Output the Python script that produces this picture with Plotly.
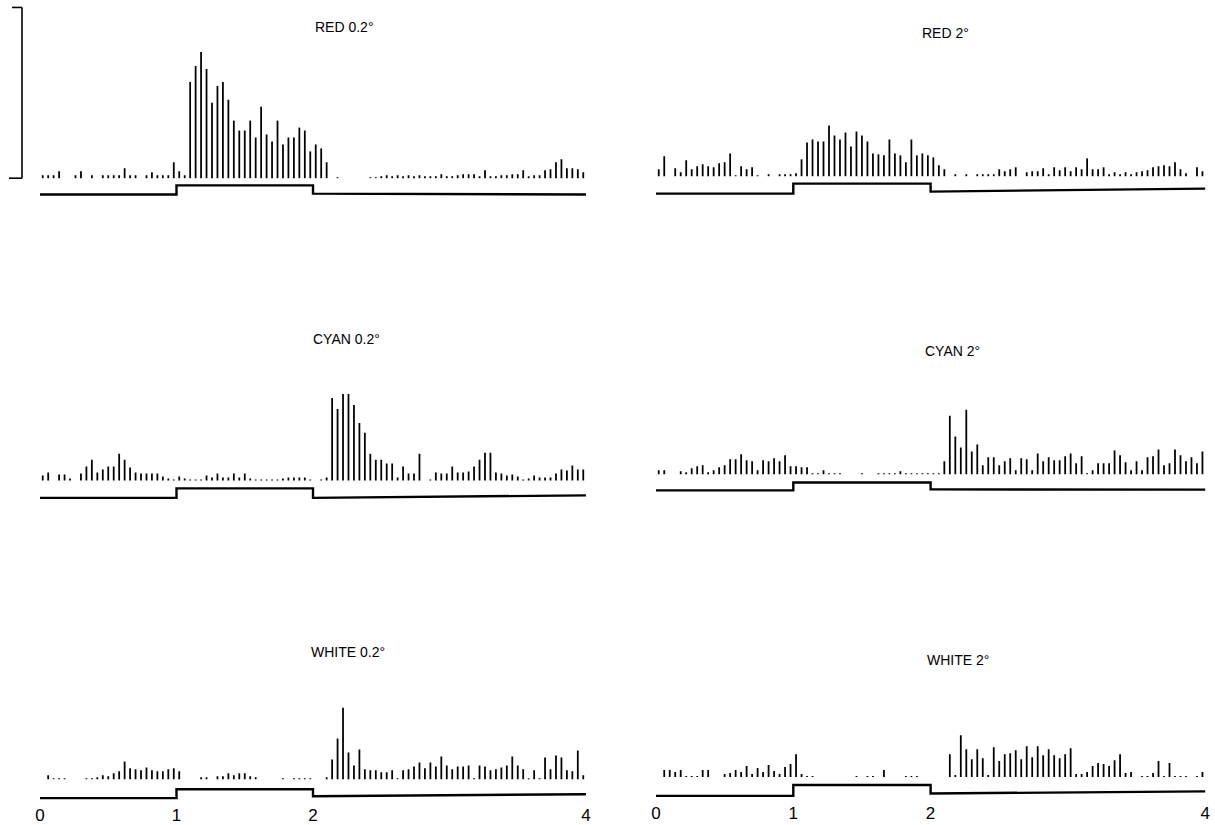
import plotly.graph_objects as go

# ---------------- data ----------------
BIN_WIDTH = 0.04          # seconds per bin
N_BINS = 100              # 4 s record
bin_centers = [BIN_WIDTH * (i + 0.5) for i in range(N_BINS)]

# spike-rate histograms (arbitrary units, same scale for all panels)
red_02 = [3, 3, 3, 7, 0, 0, 3, 7, 0, 3, 0, 3, 3, 3, 3, 10, 3, 3, 0, 3,
          6, 3, 3, 3, 16, 7, 3, 97, 113, 127, 110, 76, 93, 97, 79, 58, 48, 48, 58, 41,
          72, 44, 37, 58, 34, 41, 41, 51, 48, 27, 34, 30, 16, 0, 1, 0, 0, 0, 0, 0,
          1, 1, 2, 3, 2, 3, 2, 3, 2, 3, 2, 2, 2, 4, 2, 2, 3, 4, 4, 4,
          2, 8, 2, 2, 3, 3, 4, 4, 8, 2, 3, 3, 8, 9, 16, 19, 10, 10, 9, 6]
red_2 = [7, 20, 0, 8, 4, 16, 7, 10, 12, 10, 9, 13, 14, 23, 1, 10, 7, 9, 1, 0,
         2, 0, 2, 2, 2, 3, 17, 34, 37, 35, 35, 51, 41, 37, 44, 30, 45, 41, 35, 23,
         22, 21, 37, 23, 21, 14, 37, 21, 23, 21, 19, 11, 7, 0, 2, 0, 2, 0, 2, 2,
         2, 2, 7, 5, 7, 9, 0, 4, 5, 5, 8, 2, 9, 6, 9, 5, 9, 7, 18, 7,
         7, 9, 2, 4, 2, 4, 2, 4, 5, 6, 9, 10, 11, 10, 14, 7, 3, 0, 9, 5]
cyan_02 = [5, 8, 0, 6, 6, 2, 0, 7, 14, 21, 8, 11, 14, 14, 27, 21, 13, 8, 7, 7,
           7, 7, 4, 2, 1, 4, 2, 1, 1, 1, 5, 3, 7, 3, 3, 7, 3, 7, 2, 1,
           1, 1, 1, 1, 2, 3, 3, 3, 3, 1, 0, 1, 3, 83, 72, 87, 87, 76, 58, 48,
           27, 21, 21, 17, 17, 3, 14, 7, 7, 27, 0, 1, 8, 7, 7, 14, 8, 8, 9, 14,
           21, 28, 28, 8, 7, 5, 6, 4, 1, 2, 5, 3, 3, 3, 7, 11, 10, 15, 11, 11]
cyan_2 = [4, 4, 0, 0, 3, 2, 6, 8, 9, 2, 4, 7, 9, 15, 15, 20, 14, 13, 4, 14,
          13, 16, 13, 19, 8, 8, 7, 7, 1, 1, 4, 1, 1, 1, 0, 0, 0, 1, 0, 0,
          1, 1, 1, 1, 3, 1, 1, 1, 1, 1, 1, 1, 13, 59, 38, 27, 65, 23, 30, 9,
          17, 17, 9, 13, 16, 4, 16, 15, 4, 21, 13, 17, 14, 14, 18, 21, 11, 18, 1, 4,
          11, 11, 11, 24, 19, 12, 4, 13, 4, 17, 18, 25, 9, 11, 25, 19, 13, 17, 11, 23]
white_02 = [0, 4, 1, 1, 1, 0, 0, 0, 1, 1, 2, 4, 3, 6, 8, 18, 11, 10, 9, 12,
            9, 8, 8, 10, 11, 8, 0, 0, 0, 2, 2, 0, 3, 3, 6, 4, 6, 6, 3, 2,
            0, 0, 0, 0, 1, 0, 1, 1, 1, 1, 0, 0, 2, 20, 41, 72, 27, 14, 30, 10,
            9, 9, 7, 7, 9, 1, 9, 10, 13, 17, 11, 17, 13, 23, 14, 10, 13, 13, 14, 1,
            14, 13, 9, 10, 12, 14, 23, 14, 10, 1, 9, 1, 22, 10, 24, 22, 9, 8, 29, 4]
white_2 = [0, 7, 7, 5, 7, 1, 1, 1, 7, 7, 0, 0, 3, 4, 7, 5, 11, 3, 9, 5,
           12, 6, 3, 10, 13, 23, 3, 1, 1, 0, 0, 0, 0, 0, 0, 0, 1, 0, 1, 1,
           0, 7, 0, 0, 0, 1, 1, 1, 0, 0, 0, 0, 0, 23, 2, 42, 28, 18, 28, 19,
           2, 30, 16, 23, 24, 27, 18, 31, 20, 31, 22, 28, 22, 19, 23, 29, 3, 3, 5, 11,
           14, 13, 11, 17, 23, 4, 5, 0, 1, 1, 4, 16, 1, 14, 1, 1, 1, 0, 1, 5]

# stimulus timing (light on between 1 s and 2 s)
STIM_T = [0, 1, 1, 2, 2, 4]
STIM_ON = [0, 0, 1, 1, 0, 0]

TICK_VALS = [0, 1, 2, 4]
TICK_TEXT = ["0", "1", "2", "4"]
SCALE_BAR = 172

TITLES = ["RED 0.2°", "RED 2°", "CYAN 0.2°", "CYAN 2°", "WHITE 0.2°", "WHITE 2°"]
SERIES = [red_02, red_2, cyan_02, cyan_2, white_02, white_2]

# ---------------- layout / style ----------------
W, H = 1215, 825
COLS = [dict(dom=(0.0, 0.5), px0=40.0, pps=136.5),
        dict(dom=(0.5, 1.0), px0=656.0, pps=137.3)]
# per panel: column, baseline px, top px, bottom pad, stim levels (left low, high, right start, right end), title pos
PANELS = [
    dict(col=0, base=179.5, top=0, pad=24, stim=(-16.5, -7.2, -15.5, -16.5), tpos=(344, 27)),
    dict(col=1, base=177.5, top=0, pad=24, stim=(-17.5, -7.5, -15.5, -12.5), tpos=(945, 33)),
    dict(col=0, base=484.0, top=290, pad=24, stim=(-17.5, -8.0, -17.5, -15.0), tpos=(346, 341)),
    dict(col=1, base=477.7, top=290, pad=24, stim=(-16.3, -8.3, -15.3, -15.5), tpos=(952, 354)),
    dict(col=0, base=785.0, top=590, pad=22, stim=(-19.0, -10.0, -17.0, -15.0), tpos=(348, 657)),
    dict(col=1, base=782.7, top=590, pad=22, stim=(-19.0, -8.0, -16.6, -14.5), tpos=(958, 665)),
]

fig = go.Figure()
layout = dict(width=W, height=H, margin=dict(l=0, r=0, t=0, b=0),
              paper_bgcolor="white", plot_bgcolor="rgba(0,0,0,0)",
              showlegend=False, annotations=[], shapes=[])

for k, (p, vals, title) in enumerate(zip(PANELS, SERIES, TITLES)):
    n = "" if k == 0 else str(k + 1)
    xa, ya = "x" + n, "y" + n
    c = COLS[p["col"]]
    fig.add_trace(go.Bar(x=bin_centers, y=vals, width=0.013,
                         marker=dict(color="black", line=dict(width=0)),
                         xaxis=xa, yaxis=ya, hoverinfo="skip"))
    lo_l, hi, lo_r0, lo_r1 = p["stim"]
    sy = []
    for t, on in zip(STIM_T, STIM_ON):
        if on:
            sy.append(hi)
        elif t <= 1:
            sy.append(lo_l)
        else:
            sy.append(lo_r0 + (lo_r1 - lo_r0) * (t - 2) / 2)
    fig.add_trace(go.Scatter(x=STIM_T, y=sy, mode="lines",
                             line=dict(color="black", width=2.4, shape="linear"),
                             xaxis=xa, yaxis=ya, hoverinfo="skip", cliponaxis=False))
    xr = [(c["dom"][0] * W - c["px0"]) / c["pps"], (c["dom"][1] * W - c["px0"]) / c["pps"]]
    bottom_px = p["base"] + p["pad"]
    ydom = [1 - bottom_px / H, 1 - p["top"] / H]
    yr = [-p["pad"], p["base"] - p["top"]]
    bottom_row = k >= 4
    layout["xaxis" + n] = dict(domain=list(c["dom"]), range=xr, anchor=ya,
                               showgrid=False, zeroline=False, showline=False,
                               ticks="", showticklabels=bottom_row,
                               tickvals=TICK_VALS, ticktext=TICK_TEXT,
                               ticklabelstandoff=2,
                               tickfont=dict(family="Liberation Sans", size=17, color="black"),
                               fixedrange=True)
    layout["yaxis" + n] = dict(domain=ydom, range=yr, anchor=xa, visible=False,
                               showgrid=False, zeroline=False, fixedrange=True)
    layout["annotations"].append(dict(text=title, x=p["tpos"][0] / W, y=1 - p["tpos"][1] / H,
                                      xref="paper", yref="paper", showarrow=False,
                                      xanchor="center", yanchor="middle",
                                      font=dict(family="Liberation Sans", size=14, color="black")))

# scale bar (left of first panel)
for (x0, x1, y0, y1) in [(22, 22, 0, SCALE_BAR), (12, 22, SCALE_BAR, SCALE_BAR), (9, 22, 0, 0)]:
    layout["shapes"].append(dict(type="line", xref="paper", yref="y",
                                 x0=x0 / W, x1=x1 / W, y0=y0, y1=y1,
                                 line=dict(color="black", width=1.6)))

fig.update_layout(**layout)

POST = (
    "document.documentElement.style.margin='0';"
    "document.documentElement.style.padding='0';"
    "document.documentElement.style.overflow='hidden';"
    "document.body.style.margin='0';"
    "document.body.style.padding='0';"
    "document.body.style.overflow='hidden';"
    "document.body.style.lineHeight='0';"
    "document.body.style.fontSize='0';"
    "var gd=document.getElementById('{plot_id}');"
    "gd.style.display='block';"
    "if(gd.parentElement){gd.parentElement.style.lineHeight='0';gd.parentElement.style.fontSize='0';}"
    "document.querySelectorAll('.svg-container').forEach(function(e){e.style.display='block';});"
)
fig.write_html("out.html", config={"displayModeBar": False, "staticPlot": True},
               post_script=POST)
